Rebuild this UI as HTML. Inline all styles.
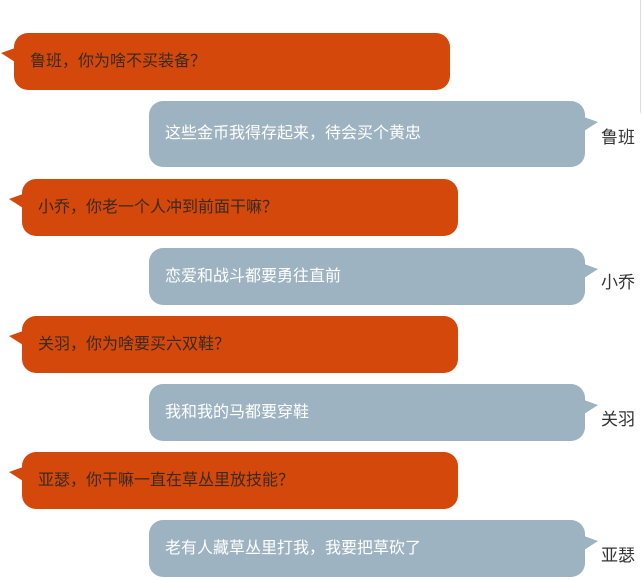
<!DOCTYPE html>
<html><head><meta charset="utf-8"><style>
body{margin:0;width:642px;height:580px;background:#fff;position:relative;overflow:hidden;font-family:"Liberation Sans","Noto Sans CJK SC",sans-serif}
.b{position:absolute;border-radius:14px;font-size:16px;line-height:20px;box-sizing:border-box;padding-left:16px;display:flex;align-items:center;white-space:nowrap}
.o{background:#d4490b;color:#3a2a20;width:436px}
.g{background:#9db3c1;color:#fff;width:436px;left:149px}
.n{position:absolute;left:601px;font-size:17px;color:#333}
svg{position:absolute;left:0;top:0}
</style></head><body>
<svg width="642" height="580">
<line x1="640.5" y1="0" x2="640.5" y2="113" stroke="#ddd"/>
<g fill="#d4490b">
<polygon points="15,48 1,53 15,62"/>
<polygon points="23,194 9,199 23,208"/>
<polygon points="23,331 9,336 23,345"/>
<polygon points="23,467 9,472 23,481"/>
</g>
<g fill="#9db3c1">
<polygon points="584,117 598,122 584,131"/>
<polygon points="584,264 598,269 584,278"/>
<polygon points="584,400 598,405 584,414"/>
<polygon points="584,536 598,541 584,550"/>
</g>
</svg>
<div class="b o" style="left:14px;top:33px;height:57px">鲁班，你为啥不买装备？</div>
<div class="b g" style="top:101px;height:66px">这些金币我得存起来，待会买个黄忠</div>
<div class="n" style="top:123px">鲁班</div>
<div class="b o" style="left:22px;top:179px;height:57px">小乔，你老一个人冲到前面干嘛？</div>
<div class="b g" style="top:248px;height:57px">恋爱和战斗都要勇往直前</div>
<div class="n" style="top:268px">小乔</div>
<div class="b o" style="left:22px;top:316px;height:57px">关羽，你为啥要买六双鞋？</div>
<div class="b g" style="top:384px;height:57px">我和我的马都要穿鞋</div>
<div class="n" style="top:405px">关羽</div>
<div class="b o" style="left:22px;top:452px;height:57px">亚瑟，你干嘛一直在草丛里放技能？</div>
<div class="b g" style="top:520px;height:57px">老有人藏草丛里打我，我要把草砍了</div>
<div class="n" style="top:541px">亚瑟</div>
</body></html>
